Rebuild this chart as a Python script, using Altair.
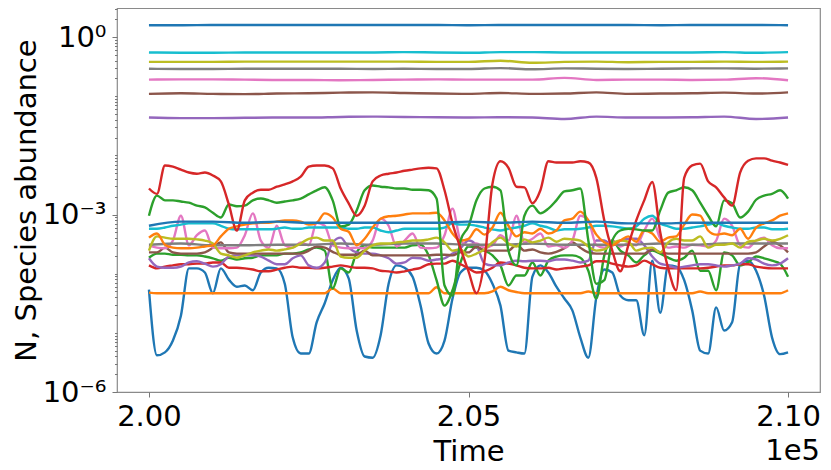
import altair as alt
import pandas as pd

# ---------------- sampling grids (time) ----------------
T_FINE = list(range(200000, 210001, 125))    # 81 samples
T_COARSE = list(range(200000, 210001, 500))  # 21 samples

# ---------------- values: log10(abundance) ----------------
blue_dip = [-4.27,-5.38,-5.33,-5.13,-4.71,-3.91,-3.91,-3.98,-4.33,-3.91,
            -4.10,-4.22,-4.20,-4.28,-3.98,-3.90,-3.91,-4.17,-5.08,-5.35,
            -5.35,-4.82,-4.50,-4.11,-3.90,-4.08,-4.96,-5.40,-5.42,-5.04,
            -4.17,-3.86,-3.90,-4.05,-4.54,-5.18,-5.35,-5.13,-4.42,-3.98,
            -3.90,-3.90,-3.95,-4.17,-4.54,-5.30,-5.33,-5.35,-4.05,-3.86,
            -3.98,-4.22,-4.42,-4.62,-5.08,-5.42,-4.40,-3.93,-3.98,-4.37,
            -4.45,-4.45,-5.04,-3.78,-4.66,-3.86,-3.88,-4.11,-4.62,-5.30,
            -5.35,-4.57,-4.96,-4.82,-3.84,-3.78,-3.95,-4.37,-5.08,-5.36,
            -5.33]

orange_flat = [-4.32,-4.33,-4.33,-4.33,-4.33,-4.33,-4.33,-4.33,-4.33,-4.33,
               -4.33,-4.33,-4.33,-4.33,-4.33,-4.33,-4.33,-4.33,-4.33,-4.33,
               -4.33,-4.33,-4.33,-4.25,-4.33,-4.33,-4.33,-4.33,-4.33,-4.33,
               -4.33,-4.33,-4.33,-4.33,-4.33,-4.33,-4.23,-4.33,-4.33,-4.33,
               -4.33,-4.33,-4.33,-4.30,-4.22,-4.28,-4.31,-4.33,-4.33,-4.33,
               -4.33,-4.33,-4.33,-4.33,-4.33,-4.30,-4.33,-4.33,-4.33,-4.33,
               -4.33,-4.33,-4.33,-4.33,-4.33,-4.33,-4.33,-4.33,-4.33,-4.30,
               -4.33,-4.33,-4.33,-4.33,-4.33,-4.33,-4.33,-4.33,-4.33,-4.33,
               -4.28]

green_low = [-3.73,-3.66,-3.66,-3.68,-3.68,-3.69,-3.69,-3.71,-3.74,-3.78,
             -3.73,-3.76,-3.74,-3.73,-3.69,-3.69,-3.69,-3.66,-3.66,-3.64,
             -3.59,-3.56,-3.61,-4.25,-3.91,-3.98,-3.64,-3.52,-3.56,-3.56,
             -3.56,-3.56,-3.56,-3.52,-3.51,-3.69,-4.11,-4.54,-4.28,-3.81,
             -3.54,-3.56,-3.61,-3.69,-3.86,-4.20,-4.03,-4.03,-3.81,-4.03,
             -3.78,-3.71,-3.69,-3.69,-3.73,-3.95,-4.42,-3.69,-3.44,-3.61,
             -3.69,-3.81,-3.69,-3.61,-3.66,-3.73,-3.78,-3.73,-3.61,-3.95,
             -3.95,-4.28,-3.64,-3.69,-3.86,-3.81,-3.71,-3.74,-3.78,-3.83,
             -4.05]

red_low = [-3.86,-3.91,-3.88,-3.86,-3.84,-3.84,-3.83,-3.83,-3.81,-3.81,
           -3.90,-3.90,-3.91,-3.93,-3.96,-3.96,-3.93,-3.90,-3.88,-3.90,
           -3.90,-3.91,-3.90,-3.88,-3.86,-3.88,-3.90,-3.90,-3.91,-3.95,
           -3.96,-3.98,-3.96,-3.93,-3.90,-3.84,-3.83,-3.83,-3.78,-3.84,
           -3.91,-3.98,-3.96,-3.90,-3.81,-3.83,-3.86,-3.90,-3.91,-3.91,
           -3.90,-3.93,-3.91,-3.90,-3.88,-3.86,-3.79,-3.79,-3.83,-3.86,
           -3.88,-3.86,-3.78,-3.84,-3.90,-3.91,-3.91,-3.91,-3.91,-3.91,
           -3.90,-3.88,-3.86,-3.86,-3.84,-3.84,-3.88,-3.90,-3.91,-3.91,
           -3.91]

purple_low = [-3.74,-3.88,-3.90,-3.90,-3.88,-3.81,-3.79,-3.83,-3.88,-3.84,
              -3.71,-3.69,-3.69,-3.69,-3.71,-3.78,-3.84,-3.84,-3.74,-3.69,
              -3.86,-3.90,-3.81,-3.47,-3.39,-3.56,-3.64,-3.66,-3.66,-3.69,
              -3.74,-3.83,-3.81,-3.73,-3.74,-3.78,-3.76,-3.74,-3.66,-3.57,
              -3.44,-3.52,-3.83,-3.86,-3.86,-3.81,-3.78,-3.79,-3.78,-3.78,
              -3.79,-3.76,-3.76,-3.78,-3.81,-3.78,-3.44,-3.44,-3.52,-3.44,
              -3.41,-3.41,-3.52,-3.71,-3.83,-3.86,-3.90,-3.88,-3.86,-3.84,
              -3.84,-3.86,-3.88,-3.86,-3.83,-3.74,-3.76,-3.83,-3.86,-3.83,
              -3.74]

brown_low = [-3.64,-3.64,-3.56,-3.64,-3.66,-3.66,-3.66,-3.64,-3.56,-3.47,
             -3.64,-3.66,-3.66,-3.66,-3.66,-3.66,-3.66,-3.66,-3.66,-3.66,
             -3.61,-3.54,-3.56,-3.63,-3.68,-3.68,-3.68,-3.61,-3.69,-3.69,
             -3.69,-3.69,-3.69,-3.69,-3.69,-3.69,-3.68,-3.68,-3.69,-3.64,
             -3.64,-3.54,-3.61,-3.61,-3.61,-3.61,-3.51,-3.61,-3.59,-3.64,
             -3.66,-3.63,-3.57,-3.47,-3.56,-3.64,-3.66,-3.66,-3.66,-3.66,
             -3.66,-3.66,-3.66,-3.59,-3.64,-3.66,-3.66,-3.66,-3.66,-3.66,
             -3.66,-3.66,-3.66,-3.66,-3.66,-3.66,-3.64,-3.54,-3.46,-3.52,
             -3.64]

pink_low = [-3.52,-3.56,-3.57,-3.44,-3.02,-3.52,-3.35,-3.27,-3.56,-3.57,
            -3.57,-3.56,-3.35,-2.98,-3.44,-3.56,-3.19,-3.52,-3.56,-3.47,
            -3.52,-3.14,-3.19,-3.52,-3.56,-3.57,-3.56,-3.57,-3.44,-3.07,
            -3.19,-3.54,-3.44,-3.32,-3.56,-3.57,-3.56,-3.35,-2.90,-3.44,
            -3.52,-3.49,-3.56,-3.52,-3.35,-3.44,-3.02,-3.47,-3.41,-3.32,
            -3.54,-3.52,-3.56,-3.44,-3.02,-3.10,-3.52,-3.56,-3.44,-3.54,
            -3.49,-3.52,-3.27,-3.07,-3.41,-3.56,-3.54,-3.56,-3.51,-3.52,
            -3.54,-3.44,-3.07,-3.19,-3.52,-3.56,-3.44,-3.39,-3.52,-3.57,
            -3.57]

olive_low = [-3.61,-3.37,-3.39,-3.41,-3.41,-3.41,-3.42,-3.44,-3.49,-3.66,
             -3.69,-3.73,-3.69,-3.64,-3.61,-3.59,-3.61,-3.59,-3.56,-3.49,
             -3.41,-3.39,-3.44,-3.44,-3.71,-3.73,-3.73,-3.61,-3.52,-3.49,
             -3.49,-3.47,-3.46,-3.44,-3.44,-3.42,-3.39,-3.47,-3.61,-3.59,
             -3.71,-3.66,-3.59,-3.47,-3.39,-3.49,-3.54,-3.42,-3.47,-3.44,
             -3.39,-3.46,-3.41,-3.42,-3.44,-3.54,-3.61,-3.59,-3.49,-3.44,
             -3.46,-3.61,-3.57,-3.56,-3.64,-3.47,-3.41,-3.44,-3.44,-3.37,
             -3.56,-3.51,-3.51,-3.49,-3.56,-3.46,-3.44,-3.41,-3.44,-3.41,
             -3.35]

cyan_low = [-3.24,-3.24,-3.22,-3.19,-3.17,-3.15,-3.15,-3.15,-3.15,-3.19,
            -3.24,-3.25,-3.25,-3.25,-3.25,-3.25,-3.24,-3.22,-3.24,-3.24,
            -3.22,-3.22,-3.22,-3.22,-3.22,-3.24,-3.24,-3.22,-3.22,-3.27,
            -3.30,-3.27,-3.24,-3.24,-3.24,-3.24,-3.24,-3.22,-3.15,-3.17,
            -3.17,-3.19,-3.22,-3.25,-3.27,-3.24,-3.22,-3.19,-3.15,-3.19,
            -3.22,-3.27,-3.25,-3.25,-3.24,-3.22,-3.19,-3.19,-3.20,-3.22,
            -3.24,-3.20,-3.07,-3.02,-3.15,-3.20,-3.24,-3.24,-3.22,-3.20,
            -3.17,-3.15,-3.19,-3.22,-3.24,-3.24,-3.22,-3.22,-3.25,-3.25,
            -3.24]

orange_var = [-3.39,-3.32,-3.51,-3.56,-3.57,-3.57,-3.56,-3.54,-3.52,-3.37,
              -3.24,-3.20,-3.17,-3.15,-3.14,-3.14,-3.12,-3.10,-3.10,-3.12,
              -3.17,-3.14,-2.98,-3.05,-3.24,-3.29,-3.52,-3.41,-3.22,-3.07,
              -3.03,-3.02,-3.00,-2.98,-2.98,-2.98,-2.97,-3.10,-3.32,-3.44,
              -3.41,-3.25,-3.34,-3.22,-2.97,-3.19,-3.37,-3.30,-3.32,-3.24,
              -3.32,-3.27,-3.10,-3.07,-2.95,-3.10,-3.34,-3.47,-3.52,-3.44,
              -3.37,-3.46,-3.27,-3.32,-3.46,-3.39,-3.37,-3.17,-3.00,-3.02,
              -3.27,-3.34,-3.32,-3.35,-3.24,-3.41,-3.22,-3.15,-3.10,-3.02,
              -2.98]

green_high = [-3.02,-2.68,-2.76,-2.76,-2.78,-2.80,-2.85,-2.88,-2.97,-3.05,
              -2.83,-2.86,-2.85,-2.76,-2.73,-2.76,-2.80,-2.78,-2.76,-2.73,
              -2.66,-2.59,-2.54,-2.76,-3.20,-3.17,-2.93,-2.59,-2.51,-2.53,
              -2.54,-2.56,-2.56,-2.58,-2.58,-2.59,-2.73,-4.20,-4.37,-3.44,
              -3.20,-2.76,-2.56,-2.53,-2.59,-3.61,-3.86,-3.02,-2.85,-2.98,
              -2.90,-2.76,-2.61,-2.59,-2.56,-3.44,-4.17,-4.11,-3.44,-3.27,
              -3.24,-3.25,-3.27,-3.27,-2.93,-2.63,-2.59,-2.54,-2.59,-2.80,
              -3.02,-3.20,-2.76,-2.81,-3.05,-2.95,-2.75,-2.68,-2.65,-2.59,
              -2.73]

red_high = [-2.56,-2.65,-2.17,-2.19,-2.24,-2.29,-2.31,-2.29,-2.34,-2.44,
            -2.83,-3.27,-2.76,-2.63,-2.58,-2.58,-2.53,-2.49,-2.44,-2.36,
            -2.19,-2.17,-2.17,-2.22,-2.56,-2.81,-3.02,-2.85,-2.44,-2.34,
            -2.31,-2.29,-2.26,-2.24,-2.22,-2.21,-2.22,-2.59,-3.15,-3.57,
            -3.96,-4.33,-3.78,-2.48,-2.10,-2.21,-2.53,-2.54,-2.81,-2.59,
            -2.10,-2.12,-2.12,-2.12,-2.10,-2.12,-2.38,-3.10,-3.61,-3.96,
            -3.52,-3.10,-2.76,-2.45,-3.30,-3.91,-4.28,-2.38,-2.17,-2.14,
            -2.44,-2.54,-2.71,-2.85,-2.29,-2.09,-2.05,-2.05,-2.09,-2.12,
            -2.16]

# coarse series (nearly flat)
blue_top = [0.20,0.20,0.205,0.205,0.205,0.205,0.205,0.205,0.205,0.205,0.20,
            0.205,0.205,0.205,0.205,0.205,0.20,0.205,0.205,0.205,0.20]
cyan_top = [-0.26,-0.265,-0.265,-0.26,-0.26,-0.26,-0.26,-0.26,-0.255,-0.26,-0.265,
            -0.255,-0.255,-0.26,-0.26,-0.26,-0.26,-0.26,-0.255,-0.265,-0.255]
olive_top = [-0.42,-0.42,-0.42,-0.415,-0.415,-0.415,-0.415,-0.415,-0.415,-0.42,-0.42,
             -0.40,-0.435,-0.42,-0.415,-0.425,-0.42,-0.42,-0.415,-0.42,-0.415]
gray_top = [-0.535,-0.54,-0.54,-0.535,-0.535,-0.535,-0.535,-0.54,-0.535,-0.54,-0.54,
            -0.525,-0.545,-0.53,-0.535,-0.54,-0.535,-0.53,-0.53,-0.535,-0.53]
pink_top = [-0.72,-0.715,-0.715,-0.72,-0.725,-0.725,-0.73,-0.725,-0.72,-0.715,-0.72,
            -0.72,-0.72,-0.69,-0.725,-0.72,-0.72,-0.725,-0.72,-0.695,-0.73]
brown_top = [-0.96,-0.95,-0.96,-0.965,-0.955,-0.95,-0.94,-0.935,-0.945,-0.955,-0.96,
             -0.945,-0.96,-0.955,-0.935,-0.96,-0.955,-0.95,-0.94,-0.955,-0.935]
purple_top = [-1.36,-1.37,-1.37,-1.365,-1.36,-1.36,-1.35,-1.345,-1.35,-1.355,-1.36,
              -1.355,-1.36,-1.385,-1.345,-1.36,-1.36,-1.355,-1.345,-1.385,-1.36]
blue_flat = [-3.19,-3.12,-3.12,-3.14,-3.12,-3.14,-3.14,-3.14,-3.14,-3.14,-3.12,
             -3.14,-3.12,-3.14,-3.12,-3.15,-3.15,-3.14,-3.14,-3.14,-3.14]
gray_low = [-3.51,-3.49,-3.52,-3.52,-3.51,-3.51,-3.49,-3.51,-3.49,-3.49,-3.51,
            -3.51,-3.49,-3.51,-3.51,-3.51,-3.49,-3.51,-3.49,-3.49,-3.49]

# ---------------- colours (matplotlib tab10 cycle) ----------------
BLUE, ORANGE, GREEN, RED, PURPLE = "#1f77b4", "#ff7f0e", "#2ca02c", "#d62728", "#9467bd"
BROWN, PINK, GRAY, OLIVE, CYAN = "#8c564b", "#e377c2", "#7f7f7f", "#bcbd22", "#17becf"

SERIES = [
    (BLUE, T_FINE, blue_dip), (ORANGE, T_FINE, orange_flat), (GREEN, T_FINE, green_low),
    (RED, T_FINE, red_low), (PURPLE, T_FINE, purple_low), (BROWN, T_FINE, brown_low),
    (PINK, T_FINE, pink_low), (GRAY, T_COARSE, gray_low), (OLIVE, T_FINE, olive_low),
    (CYAN, T_FINE, cyan_low), (BLUE, T_COARSE, blue_top), (ORANGE, T_FINE, orange_var),
    (GREEN, T_FINE, green_high), (RED, T_FINE, red_high), (PURPLE, T_COARSE, purple_top),
    (BROWN, T_COARSE, brown_top), (PINK, T_COARSE, pink_top), (GRAY, T_COARSE, gray_top),
    (OLIVE, T_COARSE, olive_top), (CYAN, T_COARSE, cyan_top), (BLUE, T_COARSE, blue_flat),
]

ids, colors, rows = [], [], []
for k, (col, ts, logs) in enumerate(SERIES):
    sid = f"sp{k:02d}"
    ids.append(sid)
    colors.append(col)
    for t, lv in zip(ts, logs):
        rows.append({"species": sid, "time": t, "abundance": 10 ** lv})
df = pd.DataFrame(rows)

# ---------------- axes text ----------------
X_TICKS = [200000, 205000, 210000]
X_OFFSET_LABEL = "1e5"
Y_MAJOR = [0.000001, 0.001, 1.0]
Y_MAJOR_LABELS = ["10⁻⁶", "10⁻³", "10⁰"]
Y_MINOR = [m * 10.0 ** k for k in range(-6, 1) for m in range(1, 10) if m * 10.0 ** k <= 3.1]

label_expr = " : ".join(
    f"abs(datum.value - {v:.10f}) < {v * 1e-6:.14f} ? '{s}'" for v, s in zip(Y_MAJOR, Y_MAJOR_LABELS)
) + " : ''"
major_test = " || ".join(f"abs(datum.value - {v:.10f}) < {v * 1e-6:.14f}" for v in Y_MAJOR)

W, H = 703, 384
FONT = "DejaVu Sans"
FS = 29
TITLE_Y = 45

lines = alt.Chart(df).mark_line(strokeWidth=2.4, clip=True, interpolate="monotone").encode(
    x=alt.X("time:Q",
            scale=alt.Scale(domain=[199500, 210500], nice=False, zero=False),
            axis=alt.Axis(values=X_TICKS, labelExpr="format(datum.value / 100000, '.2f')",
                          title="Time", titleY=TITLE_Y, labelFlush=False, labelOverlap=False,
                          tickSize=5, labelPadding=5)),
    y=alt.Y("abundance:Q",
            scale=alt.Scale(type="log", domain=[0.000001, 3.1], nice=False),
            axis=alt.Axis(values=sorted(set(Y_MINOR + Y_MAJOR)), labelExpr=label_expr,
                          title="N, Species abundance", titleX=-105, titleBaseline="top",
                          labelOverlap=False, labelFlush=False,
                          tickSize={"condition": {"test": major_test, "value": 5}, "value": 2.5},
                          labelPadding=6)),
    color=alt.Color("species:N", scale=alt.Scale(domain=ids, range=colors), legend=None),
    order=alt.Order("time:Q"),
)

offset_text = alt.Chart(pd.DataFrame({"t": [X_OFFSET_LABEL]})).mark_text(
    align="right", baseline="top", fontSize=FS, font=FONT, color="black"
).encode(x=alt.value(W), y=alt.value(H + TITLE_Y), text="t:N")

chart = alt.layer(lines, offset_text).properties(
    width=W, height=H,
    padding={"left": 109, "top": 0, "right": 3, "bottom": 76},
    autosize=alt.AutoSizeParams(type="none"),
).configure_view(stroke="#8a8a8a", strokeWidth=1.2).configure_axis(
    domain=False, grid=False, tickColor="#777777", tickWidth=1,
    labelFont=FONT, labelFontSize=FS, labelColor="black",
    titleFont=FONT, titleFontSize=FS, titleFontWeight="normal", titleColor="black",
)

chart.save("out.html", embed_options={"renderer": "svg", "actions": False})
